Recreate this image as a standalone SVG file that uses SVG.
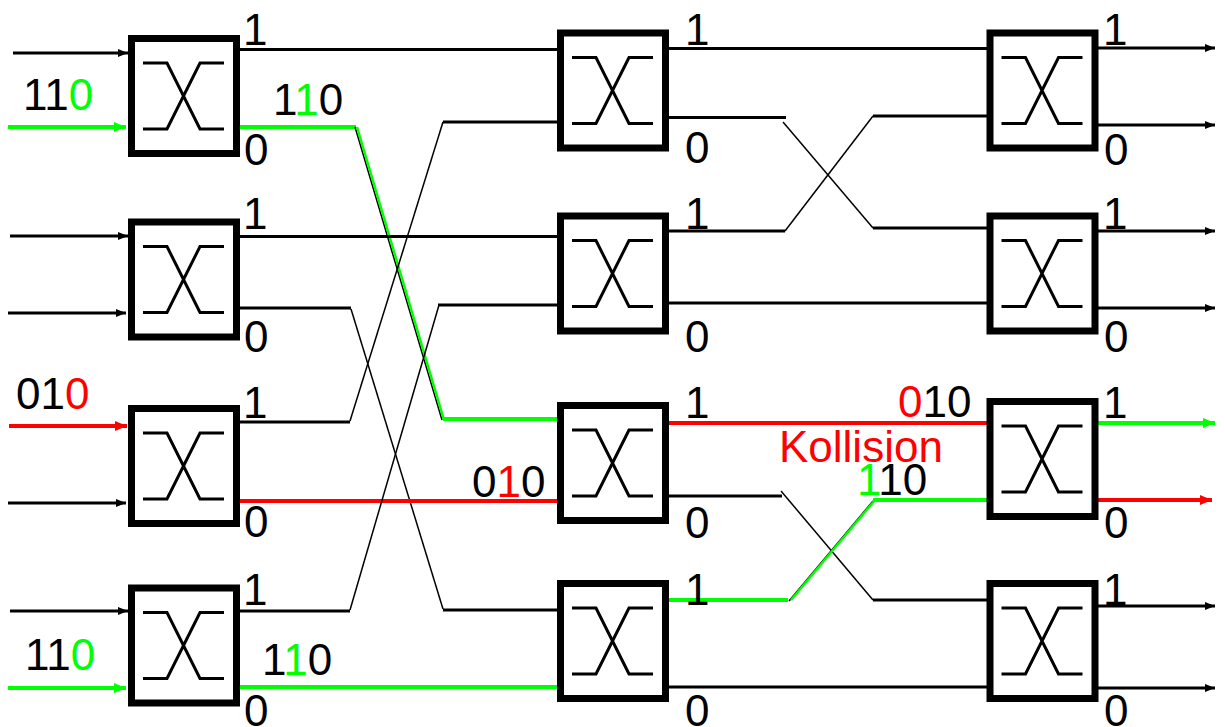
<svg xmlns="http://www.w3.org/2000/svg" xmlns:xlink="http://www.w3.org/1999/xlink" width="1225" height="727" viewBox="0 0 1225 727">
<style>
.k{stroke:#000;stroke-width:3;fill:none}
.kt{stroke:#000;stroke-width:1.5;fill:none}
.g{stroke:#00FF00;stroke-width:4;fill:none}
.gt{stroke:#00FF00;stroke-width:2.5;fill:none}
.r{stroke:#FF0000;stroke-width:4;fill:none}
text{font-family:"Liberation Sans",Arial,sans-serif;font-size:44px;fill:#000}
.tg{fill:#00FF00}
.tr{fill:#FF0000}
</style>
<defs>
<g id="sw">
<rect x="-52.5" y="-57.5" width="105" height="115" fill="#fff" stroke="#000" stroke-width="7"/>
<path d="M-41,-33 H-17 L16,33 H40 M40,-33 H16 L-17,33 H-41" fill="none" stroke="#000" stroke-width="3"/>
</g>
<marker id="ak" markerWidth="10" markerHeight="8" refX="10" refY="4" orient="auto" markerUnits="userSpaceOnUse"><path d="M0,0 L10,4 L0,8 Z" fill="#000"/></marker>
<marker id="ag" markerWidth="12" markerHeight="10" refX="12" refY="5" orient="auto" markerUnits="userSpaceOnUse"><path d="M0,0 L12,5 L0,10 Z" fill="#00FF00"/></marker>
<marker id="ar" markerWidth="12" markerHeight="10" refX="12" refY="5" orient="auto" markerUnits="userSpaceOnUse"><path d="M0,0 L12,5 L0,10 Z" fill="#FF0000"/></marker>
</defs>

<g id="connectors">
<!-- inputs column 1 -->
<line class="k" x1="13" y1="53" x2="128" y2="53" marker-end="url(#ak)"/>
<line class="g" x1="8" y1="127" x2="126" y2="127" marker-end="url(#ag)"/>
<line class="k" x1="10" y1="236" x2="128" y2="236" marker-end="url(#ak)"/>
<line class="k" x1="8" y1="313" x2="126" y2="313" marker-end="url(#ak)"/>
<line class="r" x1="9" y1="426" x2="127" y2="426" marker-end="url(#ar)"/>
<line class="k" x1="8" y1="503" x2="126" y2="503" marker-end="url(#ak)"/>
<line class="k" x1="10" y1="611" x2="128" y2="611" marker-end="url(#ak)"/>
<line class="g" x1="8" y1="688" x2="126" y2="688" marker-end="url(#ag)"/>

<!-- column 1 to column 2 -->
<line class="k" x1="240" y1="49.5" x2="557" y2="49.5"/>
<line class="g" x1="240" y1="127" x2="356" y2="127"/>
<line class="kt" x1="355" y1="127" x2="442" y2="420"/>
<line class="gt" x1="357" y1="127" x2="444" y2="420"/>
<line class="g" x1="443" y1="419" x2="557" y2="419"/>
<line class="k" x1="240" y1="236.5" x2="557" y2="236.5"/>
<line class="k" x1="240" y1="308" x2="351" y2="308"/>
<line class="kt" x1="351" y1="309" x2="443" y2="609"/>
<line class="k" x1="443" y1="610" x2="557" y2="610"/>
<line class="k" x1="240" y1="422" x2="350" y2="422"/>
<line class="kt" x1="350" y1="421" x2="443" y2="122"/>
<line class="k" x1="443" y1="122" x2="557" y2="122"/>
<line class="r" x1="240" y1="501" x2="557" y2="501"/>
<line class="k" x1="240" y1="611" x2="350" y2="611"/>
<line class="kt" x1="350" y1="610" x2="439" y2="305"/>
<line class="k" x1="438" y1="305" x2="557" y2="305"/>
<line class="g" x1="240" y1="687" x2="557" y2="687"/>

<!-- column 2 to column 3 -->
<line class="k" x1="669" y1="48.5" x2="987" y2="48.5"/>
<line class="k" x1="669" y1="117.5" x2="786" y2="117.5"/>
<line class="kt" x1="783" y1="122" x2="873" y2="228"/>
<line class="k" x1="873" y1="228" x2="987" y2="228"/>
<line class="k" x1="669" y1="231" x2="785" y2="231"/>
<line class="kt" x1="785" y1="231" x2="873" y2="116"/>
<line class="k" x1="873" y1="116" x2="987" y2="116"/>
<line class="k" x1="669" y1="303" x2="987" y2="303"/>
<line class="r" x1="669" y1="423" x2="987" y2="423"/>
<line class="k" x1="669" y1="496" x2="782" y2="496"/>
<line class="kt" x1="781" y1="491" x2="873" y2="600"/>
<line class="k" x1="873" y1="600" x2="987" y2="600"/>
<line class="g" x1="669" y1="600" x2="788" y2="600"/>
<line class="kt" x1="789" y1="601" x2="873" y2="501"/>
<line class="gt" x1="791" y1="600" x2="875" y2="500"/>
<line class="g" x1="873" y1="500" x2="987" y2="500"/>
<line class="k" x1="669" y1="687" x2="987" y2="687"/>

<!-- outputs column 3 -->
<line class="k" x1="1098" y1="48" x2="1215" y2="48" marker-end="url(#ak)"/>
<line class="k" x1="1098" y1="125" x2="1215" y2="125" marker-end="url(#ak)"/>
<line class="k" x1="1098" y1="231" x2="1215" y2="231" marker-end="url(#ak)"/>
<line class="k" x1="1098" y1="308" x2="1215" y2="308" marker-end="url(#ak)"/>
<line class="g" x1="1098" y1="423" x2="1215" y2="423" marker-end="url(#ag)"/>
<line class="r" x1="1098" y1="500" x2="1212" y2="500" marker-end="url(#ar)"/>
<line class="k" x1="1098" y1="606" x2="1215" y2="606" marker-end="url(#ak)"/>
<line class="k" x1="1098" y1="688" x2="1215" y2="688" marker-end="url(#ak)"/>
</g>

<g id="s11"><use xlink:href="#sw" x="184" y="96"/><text x="243" y="45">1</text><text x="244" y="165">0</text></g>
<g id="s12"><use xlink:href="#sw" x="184" y="279.5"/><text x="243" y="229">1</text><text x="244" y="352">0</text></g>
<g id="s13"><use xlink:href="#sw" x="184" y="466"/><text x="243" y="418">1</text><text x="244" y="537">0</text></g>
<g id="s14"><use xlink:href="#sw" x="184" y="645.5"/><text x="243" y="605">1</text><text x="244" y="726">0</text></g>

<g id="s21"><use xlink:href="#sw" x="613" y="90.5"/><text x="685" y="45">1</text><text x="685" y="163">0</text></g>
<g id="s22"><use xlink:href="#sw" x="613" y="273.5"/><text x="685" y="229">1</text><text x="685" y="352">0</text></g>
<g id="s23"><use xlink:href="#sw" x="613" y="463"/><text x="685" y="418">1</text><text x="685" y="538">0</text></g>
<g id="s24"><use xlink:href="#sw" x="613" y="641"/><text x="685" y="605">1</text><text x="685" y="726">0</text></g>

<g id="s31"><use xlink:href="#sw" x="1042.5" y="90.5"/><text x="1103" y="45">1</text><text x="1104" y="165">0</text></g>
<g id="s32"><use xlink:href="#sw" x="1042.5" y="273.5"/><text x="1103" y="229">1</text><text x="1104" y="352">0</text></g>
<g id="s33"><use xlink:href="#sw" x="1042.5" y="459"/><text x="1103" y="418">1</text><text x="1104" y="538">0</text></g>
<g id="s34"><use xlink:href="#sw" x="1042.5" y="641"/><text x="1103" y="605">1</text><text x="1104" y="726">0</text></g>

<g id="labels">
<text x="23" y="110">11<tspan class="tg">0</tspan></text>
<text x="273" y="115">1<tspan class="tg">1</tspan>0</text>
<text x="16" y="409">01<tspan class="tr">0</tspan></text>
<text x="25" y="670">11<tspan class="tg">0</tspan></text>
<text x="262" y="675">1<tspan class="tg">1</tspan>0</text>
<text x="472" y="497">0<tspan class="tr">1</tspan>0</text>
<text x="898" y="417"><tspan class="tr">0</tspan>10</text>
<text class="tr" x="779" y="462">Kollision</text>
<text x="857" y="495"><tspan class="tg">1</tspan>10</text>
</g>
</svg>
